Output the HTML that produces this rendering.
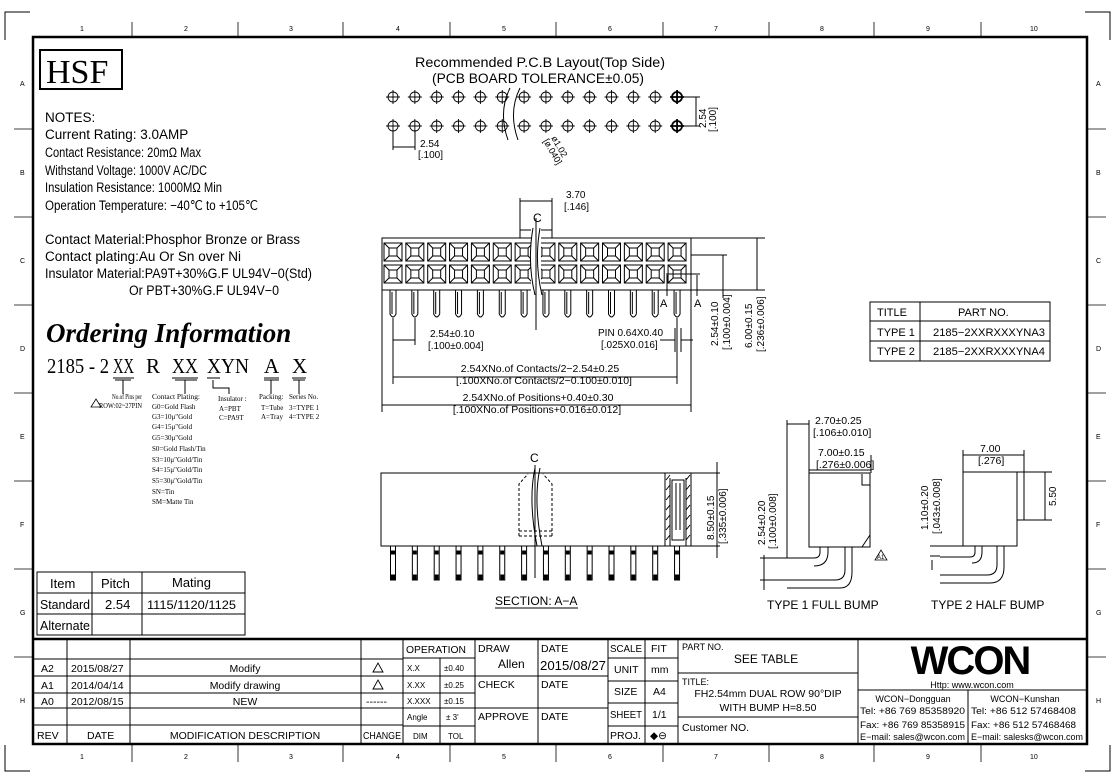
<!DOCTYPE html>
<html><head><meta charset="utf-8"><style>
html,body{margin:0;padding:0;background:#fff;}
svg{display:block;}
text{font-family:"Liberation Sans",sans-serif;fill:#000;}
.s{font-family:"Liberation Serif",serif;}
.ln{stroke:#000;fill:none;stroke-width:1;}
.th{stroke:#000;fill:none;stroke-width:2.5;}
.tk{stroke:#000;fill:none;stroke-width:0.8;}
</style></head><body>
<svg id="sv" width="1115" height="783" viewBox="0 0 1115 783" xmlns="http://www.w3.org/2000/svg">
<path class="ln" stroke-width="1.5" d="M5,40 V12 H30 M1110,40 V12 H1085 M5,745 V771 H30 M1110,745 V771 H1085"/>
<rect class="th" x="33" y="37" width="1054" height="707"/>
<g id="rul" class="tk"></g>
<g font-size="7" fill="#555">
<text x="80" y="31">1</text><text x="184" y="31">2</text><text x="289" y="31">3</text><text x="396" y="31">4</text><text x="502" y="31">5</text><text x="608" y="31">6</text><text x="714" y="31">7</text><text x="820" y="31">8</text><text x="926" y="31">9</text><text x="1030" y="31">10</text>
<text x="80" y="759">1</text><text x="184" y="759">2</text><text x="289" y="759">3</text><text x="396" y="759">4</text><text x="502" y="759">5</text><text x="608" y="759">6</text><text x="714" y="759">7</text><text x="820" y="759">8</text><text x="926" y="759">9</text><text x="1030" y="759">10</text>
<text x="20" y="86">A</text><text x="20" y="175">B</text><text x="20" y="263">C</text><text x="20" y="351">D</text><text x="20" y="439">E</text><text x="20" y="527">F</text><text x="20" y="615">G</text><text x="20" y="703">H</text>
<text x="1096" y="86">A</text><text x="1096" y="175">B</text><text x="1096" y="263">C</text><text x="1096" y="351">D</text><text x="1096" y="439">E</text><text x="1096" y="527">F</text><text x="1096" y="615">G</text><text x="1096" y="703">H</text>
</g>

<rect x="40" y="50" width="82" height="39" fill="none" stroke="#000" stroke-width="2"/>
<text class="s" x="46" y="83" font-size="34">HSF</text>
<g font-size="13.5">
<text x="45" y="122">NOTES:</text>
<text x="45" y="139">Current Rating: 3.0AMP</text>
<text x="45" y="157" textLength="156">Contact Resistance: 20mΩ Max</text>
<text x="45" y="175" textLength="162">Withstand Voltage: 1000V AC/DC</text>
<text x="45" y="192" textLength="177">Insulation Resistance: 1000MΩ Min</text>
<text x="45" y="210" textLength="213">Operation Temperature: −40℃ to +105℃</text>
<text x="45" y="244" textLength="255">Contact Material:Phosphor Bronze or Brass</text>
<text x="45" y="261" textLength="196">Contact plating:Au Or Sn over Ni</text>
<text x="45" y="278" textLength="267">Insulator Material:PA9T+30%G.F UL94V−0(Std)</text>
<text x="129" y="295" textLength="150">Or PBT+30%G.F UL94V−0</text>
</g>
<text class="s" x="46" y="342" font-size="27" font-weight="bold" font-style="italic">Ordering Information</text>
<g class="s" font-size="21">
<text class="s" x="47" y="373" textLength="62">2185 - 2</text>
<text class="s" x="113" y="373" textLength="21">XX</text>
<text class="s" x="146" y="373">R</text>
<text class="s" x="172" y="373" textLength="26">XX</text>
<text class="s" x="207" y="373" textLength="42">XYN</text>
<text class="s" x="264" y="373">A</text>
<text class="s" x="292" y="373">X</text>
</g>
<path class="ln" d="M113,378H134 M172,378H198 M207,378H220 M264,378H279 M292,378H306
M123,380V394 M115,380H131 M185,380V394 M175,380H197 M213,380V388H229V394 M271,380V394 M264,380H279 M299,380V394 M293,380H305"/>
<g font-size="7">
<text class="s" x="112" y="399" textLength="30">No.of Pins per</text>
<text class="s" x="99" y="408" textLength="43">ROW:02~27PIN</text>
<path d="M91,407 L96,399 L101,407Z" fill="none" stroke="#000" stroke-width="0.8"/>
<text class="s" x="152" y="399" textLength="48">Contact Plating:</text>
<text class="s" x="152" y="409">G0=Gold Flash</text>
<text class="s" x="152" y="419">G3=10μ"Gold</text>
<text class="s" x="152" y="429">G4=15μ"Gold</text>
<text class="s" x="152" y="440">G5=30μ"Gold</text>
<text class="s" x="152" y="451">S0=Gold Flash/Tin</text>
<text class="s" x="152" y="462">S3=10μ"Gold/Tin</text>
<text class="s" x="152" y="472">S4=15μ"Gold/Tin</text>
<text class="s" x="152" y="483">S5=30μ"Gold/Tin</text>
<text class="s" x="152" y="494">SN=Tin</text>
<text class="s" x="152" y="504">SM=Matte Tin</text>
<text class="s" x="218" y="401">Insulator :</text>
<text class="s" x="219" y="411">A=PBT</text>
<text class="s" x="219" y="420">C=PA9T</text>
<text class="s" x="259" y="399">Packing:</text>
<text class="s" x="261" y="410">T=Tube</text>
<text class="s" x="261" y="419">A=Tray</text>
<text class="s" x="289" y="399">Series No.</text>
<text class="s" x="289" y="410">3=TYPE 1</text>
<text class="s" x="289" y="419">4=TYPE 2</text>
</g>

<text x="540" y="67" font-size="13.5" text-anchor="middle" textLength="250">Recommended P.C.B Layout(Top Side)</text>
<text x="538" y="83" font-size="13.5" text-anchor="middle" textLength="212">(PCB BOARD TOLERANCE±0.05)</text>
<g id="holes" class="ln" stroke-width="0.9"></g>
<path class="ln" d="M510,88 Q498,112 508,140 M520,88 Q508,112 518,140 M677,97H700 M677,126H700 M696,97V126 M393,130V150 M415,130V150 M393,147H415"/>
<text x="420" y="147" font-size="10">2.54</text><text x="418" y="158" font-size="10">[.100]</text>
<text transform="translate(706,128) rotate(-90)" font-size="10">2.54</text>
<text transform="translate(716,132) rotate(-90)" font-size="10">[.100]</text>
<text transform="translate(551,138) rotate(60)" font-size="9">ø1.02</text>
<text transform="translate(543,141) rotate(60)" font-size="9">[ø.040]</text>

<rect class="ln" x="382" y="238" width="309" height="52"/>
<rect class="ln" x="520" y="230" width="32" height="8"/>
<g id="cells" class="ln" stroke-width="0.8"></g>
<g id="pins" class="ln" stroke-width="0.8"></g>
<rect x="531" y="228" width="10" height="100" fill="#fff"/>
<path class="ln" d="M533,228 Q527,262 535,295 M540,228 Q534,262 542,295 M536,218V330"/>
<text x="533" y="222" font-size="12">C</text>
<path class="ln" d="M520,198V230 M552,198V230 M520,201H552"/>
<text x="566" y="198" font-size="10">3.70</text><text x="564" y="210" font-size="10">[.146]</text>
<path class="ln" d="M393,318V384 M415,318V345 M393,340H415 M677,318V384 M382,290V412 M691,290V412 M393,377H677 M382,405H691 M675,328V352 M681,328V352 M660,340H675 M681,340H693"/>
<text x="430" y="337" font-size="10">2.54±0.10</text><text x="428" y="349" font-size="10">[.100±0.004]</text>
<text x="598" y="336" font-size="10">PIN 0.64X0.40</text><text x="601" y="348" font-size="10">[.025X0.016]</text>
<text x="540" y="372" font-size="10.5" text-anchor="middle">2.54XNo.of Contacts/2−2.54±0.25</text>
<text x="544" y="384" font-size="10.5" text-anchor="middle">[.100XNo.of Contacts/2−0.100±0.010]</text>
<text x="538" y="401" font-size="10.5" text-anchor="middle">2.54XNo.of Positions+0.40±0.30</text>
<text x="537" y="413" font-size="10.5" text-anchor="middle">[.100XNo.of Positions+0.016±0.012]</text>
<path class="ln" d="M691,238H765 M691,255H727 M666,274H700 M691,290H765 M723,255V298 M757,238V290 M667,275V296 M697,275V296"/>
<text x="660" y="307" font-size="11">A</text><text x="694" y="307" font-size="11">A</text>
<text transform="translate(718,346) rotate(-90)" font-size="10">2.54±0.10</text>
<text transform="translate(730,350) rotate(-90)" font-size="10">[.100±0.004]</text>
<text transform="translate(752,348) rotate(-90)" font-size="10">6.00±0.15</text>
<text transform="translate(764,352) rotate(-90)" font-size="10">[.236±0.006]</text>

<g class="ln"><rect x="870" y="302" width="180" height="59"/><path d="M870,321H1050 M870,341H1050 M920,302V361"/></g>
<g font-size="11"><text x="877" y="316">TITLE</text><text x="958" y="316">PART NO.</text>
<text x="877" y="336">TYPE 1</text><text x="933" y="336" textLength="112">2185−2XXRXXXYNA3</text>
<text x="877" y="355">TYPE 2</text><text x="933" y="355" textLength="112">2185−2XXRXXXYNA4</text></g>

<rect class="ln" x="381" y="473" width="310" height="73"/>
<g id="spins" class="ln" stroke-width="0.8"></g>
<path class="ln" stroke-dasharray="3,2" d="M519,536V484L528,474 M552,536V484L543,474 M519,531H552 M519,536H552"/>
<path class="ln" d="M535,468 Q528,500 537,546 M540,468 Q533,500 542,546 M535,465V578"/>
<text x="530" y="462" font-size="12">C</text>
<rect class="ln" x="665" y="473" width="26" height="73"/>
<path class="ln" stroke-width="0.6" d="M666,480L670,475 M666,490L670,485 M666,500L670,495 M666,510L670,505 M666,520L670,515 M666,530L670,525 M666,540L670,535 M686,480L690,475 M686,490L690,485 M686,500L690,495 M686,510L690,505 M686,520L690,515 M686,530L690,525 M686,540L690,535 M670,478V546 M686,478V546 M672,480H684V540H672Z M676,483V530 M680,483V530"/>
<path class="ln" d="M691,473H720 M691,546H720 M717,462V558"/>
<text transform="translate(714,540) rotate(-90)" font-size="10">8.50±0.15</text>
<text transform="translate(726,544) rotate(-90)" font-size="10">[.335±0.006]</text>
<text x="495" y="605" font-size="12">SECTION: A−A</text>
<path class="ln" d="M495,608H578"/>

<rect class="ln" x="809" y="473" width="61" height="74"/>
<path class="ln" d="M862,474V485H870 M870,535L862,547 M787,420V558 M809,420V473 M787,424H809 M809,470H871 M871,455V473
M820,547V552Q820,558 814,558H787 M828,547V552Q828,566 814,566 M845,547V570Q845,580 835,580H787 M852,547V572Q852,588 840,588H787 M764,555V590 M760,558H787 M760,580H787"/>
<text x="815" y="424" font-size="10.5">2.70±0.25</text><text x="813" y="436" font-size="10.5">[.106±0.010]</text>
<text x="818" y="456" font-size="10.5">7.00±0.15</text><text x="816" y="468" font-size="10.5">[.276±0.006]</text>
<text transform="translate(765,545) rotate(-90)" font-size="10">2.54±0.20</text>
<text transform="translate(776,549) rotate(-90)" font-size="10">[.100±0.008]</text>
<path d="M875,560L881,550L887,560Z" fill="none" stroke="#000" stroke-width="0.8"/><text x="877" y="559" font-size="6">A1</text>
<text x="767" y="609" font-size="12">TYPE 1 FULL BUMP</text>
<rect class="ln" x="963" y="472" width="54" height="74"/>
<path class="ln" d="M1017,472V520H1024V472H1017 M963,450V472 M1024,450V472 M963,455H1024 M1024,472H1052 M1024,520H1052 M1045,472V520
M975,546V552Q975,557 970,557H940 M982,546V552Q982,563 972,563 M997,546V565Q997,575 987,575H940 M1004,546V567Q1004,583 990,583H940 M930,546H963 M930,556H940 M932,560V570"/>
<text x="980" y="452" font-size="10.5">7.00</text><text x="978" y="464" font-size="10.5">[.276]</text>
<text transform="translate(1056,506) rotate(-90)" font-size="10">5.50</text>
<text transform="translate(928,530) rotate(-90)" font-size="10">1.10±0.20</text>
<text transform="translate(940,534) rotate(-90)" font-size="10">[.043±0.008]</text>
<text x="931" y="609" font-size="12">TYPE 2 HALF BUMP</text>

<g class="ln"><rect x="37" y="572" width="208" height="63"/><path d="M37,593H245 M37,614H245 M92,572V635 M142,572V635"/></g>
<g font-size="13"><text x="50" y="588">Item</text><text x="101" y="588">Pitch</text><text x="172" y="587">Mating</text>
<text x="40" y="609" textLength="50">Standard</text><text x="105" y="609">2.54</text><text x="147" y="609" font-size="11.5" textLength="89">1115/1120/1125</text>
<text x="40" y="630" textLength="50">Alternate</text></g>

<path class="th" d="M33,639H1087"/>
<g class="ln">
<path d="M33,659H403 M33,676H403 M33,693H403 M33,708H403 M33,725H403 M67,639V744 M130,639V744 M361,639V744 M403,639V744
M403,658H475 M403,676H475 M403,693H475 M403,708H475 M403,726H475 M440,658V744 M475,639V744 M475,676H608 M475,708H608 M538,639V744 M608,639V744
M608,658H678 M608,681H678 M608,703H678 M608,726H678 M645,639V744 M678,639V744 M678,673H858 M678,717H858 M858,639V744 M858,690H1087 M968,690V744"/>
</g>
<g font-size="10.5">
<text x="41" y="672">A2</text><text x="71" y="672">2015/08/27</text><text x="245" y="672" text-anchor="middle">Modify</text>
<text x="41" y="689">A1</text><text x="71" y="689">2014/04/14</text><text x="245" y="689" text-anchor="middle">Modify drawing</text>
<text x="41" y="705">A0</text><text x="71" y="705">2012/08/15</text><text x="245" y="705" text-anchor="middle">NEW</text>
<text x="37" y="739">REV</text><text x="87" y="739">DATE</text><text x="245" y="739" text-anchor="middle">MODIFICATION DESCRIPTION</text>
<text x="363" y="739" textLength="38">CHANGE</text><text x="366" y="705">------</text>
<text x="406" y="653" textLength="60">OPERATION</text><text x="478" y="652">DRAW</text><text x="541" y="652">DATE</text><text x="610" y="652" textLength="32">SCALE</text><text x="651" y="652">FIT</text><text x="682" y="650" font-size="9">PART NO.</text>
<text x="498" y="668" font-size="12">Allen</text><text x="540" y="670" font-size="13" textLength="66">2015/08/27</text>
<text x="478" y="688">CHECK</text><text x="541" y="688">DATE</text><text x="478" y="720">APPROVE</text><text x="541" y="720">DATE</text>
<text x="614" y="673">UNIT</text><text x="651" y="673">mm</text><text x="614" y="695">SIZE</text><text x="653" y="695">A4</text>
<text x="610" y="718" textLength="32">SHEET</text><text x="652" y="718">1/1</text><text x="610" y="739">PROJ.</text><text x="650" y="739">◆⊖</text>
<text x="766" y="663" font-size="12" text-anchor="middle">SEE TABLE</text>
<text x="682" y="685" font-size="9">TITLE:</text>
<text x="768" y="697" text-anchor="middle">FH2.54mm   DUAL ROW  90°DIP</text>
<text x="768" y="711" text-anchor="middle">WITH BUMP  H=8.50</text>
<text x="682" y="731">Customer NO.</text>
</g>
<g font-size="8">
<text x="407" y="671">X.X</text><text x="444" y="671">±0.40</text>
<text x="407" y="688">X.XX</text><text x="444" y="688">±0.25</text>
<text x="407" y="704">X.XXX</text><text x="444" y="704">±0.15</text>
<text x="407" y="720">Angle</text><text x="446" y="720">±  3'</text>
<text x="413" y="739">DIM</text><text x="448" y="739">TOL</text>
</g>
<path d="M373,672L378,663L383,672Z M373,689L378,680L383,689Z" fill="none" stroke="#000" stroke-width="0.9"/>
<text x="970" y="674" font-size="40" font-weight="bold" text-anchor="middle" fill="#222" letter-spacing="-2" font-family="Liberation Sans">WCON</text>
<g font-size="9">
<text x="972" y="688" text-anchor="middle">Http:  www.wcon.com</text>
<text x="913" y="702" text-anchor="middle">WCON−Dongguan</text><text x="1025" y="702" text-anchor="middle">WCON−Kunshan</text>
<text x="860" y="714" textLength="105">Tel: +86 769 85358920</text><text x="971" y="714" textLength="105">Tel: +86 512 57468408</text>
<text x="860" y="728" textLength="105">Fax: +86 769 85358915</text><text x="971" y="728" textLength="105">Fax: +86 512 57468468</text>
<text x="860" y="740" textLength="105">E−mail: sales@wcon.com</text><text x="971" y="740" textLength="112">E−mail: salesks@wcon.com</text>
</g>
</svg>
<script>
var NS="http://www.w3.org/2000/svg";
document.querySelectorAll("text[textLength]").forEach(function(t){t.setAttribute("lengthAdjust","spacingAndGlyphs");});
function add(g,tag,at){var e=document.createElementNS(NS,tag);for(var k in at)e.setAttribute(k,at[k]);document.getElementById(g).appendChild(e);}
var xs=[132,238,343,450,556,663,769,874,981];
xs.forEach(function(x){add("rul","line",{x1:x,y1:22,x2:x,y2:37});add("rul","line",{x1:x,y1:744,x2:x,y2:762});});
[129,217,305,393,481,569,657].forEach(function(y){add("rul","line",{x1:14,y1:y,x2:33,y2:y});add("rul","line",{x1:1087,y1:y,x2:1106,y2:y});});
var cx=[];for(var i=0;i<14;i++)cx.push(393+i*21.85);
cx.forEach(function(x,i){
 [97,126].forEach(function(y){
  var w=(i==13)?1.8:0.9;
  add("holes","circle",{cx:x,cy:y,r:5,"stroke-width":w});
  add("holes","path",{d:"M"+(x-7)+","+y+"H"+(x+7)+"M"+x+","+(y-7)+"V"+(y+7),"stroke-width":w});
 });
 [252,274].forEach(function(y){
  add("cells","rect",{x:x-9,y:y-9,width:18,height:18});
  add("cells","rect",{x:x-4,y:y-4,width:8,height:8});
  add("cells","path",{d:"M"+(x-9)+","+(y-9)+"L"+(x-4)+","+(y-4)+"M"+(x+9)+","+(y-9)+"L"+(x+4)+","+(y-4)+"M"+(x-9)+","+(y+9)+"L"+(x-4)+","+(y+4)+"M"+(x+9)+","+(y+9)+"L"+(x+4)+","+(y+4)});
 });
 add("pins","path",{d:"M"+(x-3)+",290V314Q"+x+",320 "+(x+3)+",314V290 M"+(x-1)+",292V314"});
 add("spins","rect",{x:x-2.5,y:546,width:5,height:34});
 add("spins","rect",{x:x-1.5,y:575,width:3,height:4,fill:"#000"});
 add("spins","rect",{x:x-1.5,y:551,width:3,height:3,fill:"#000"});
});
</script>
</body></html>
